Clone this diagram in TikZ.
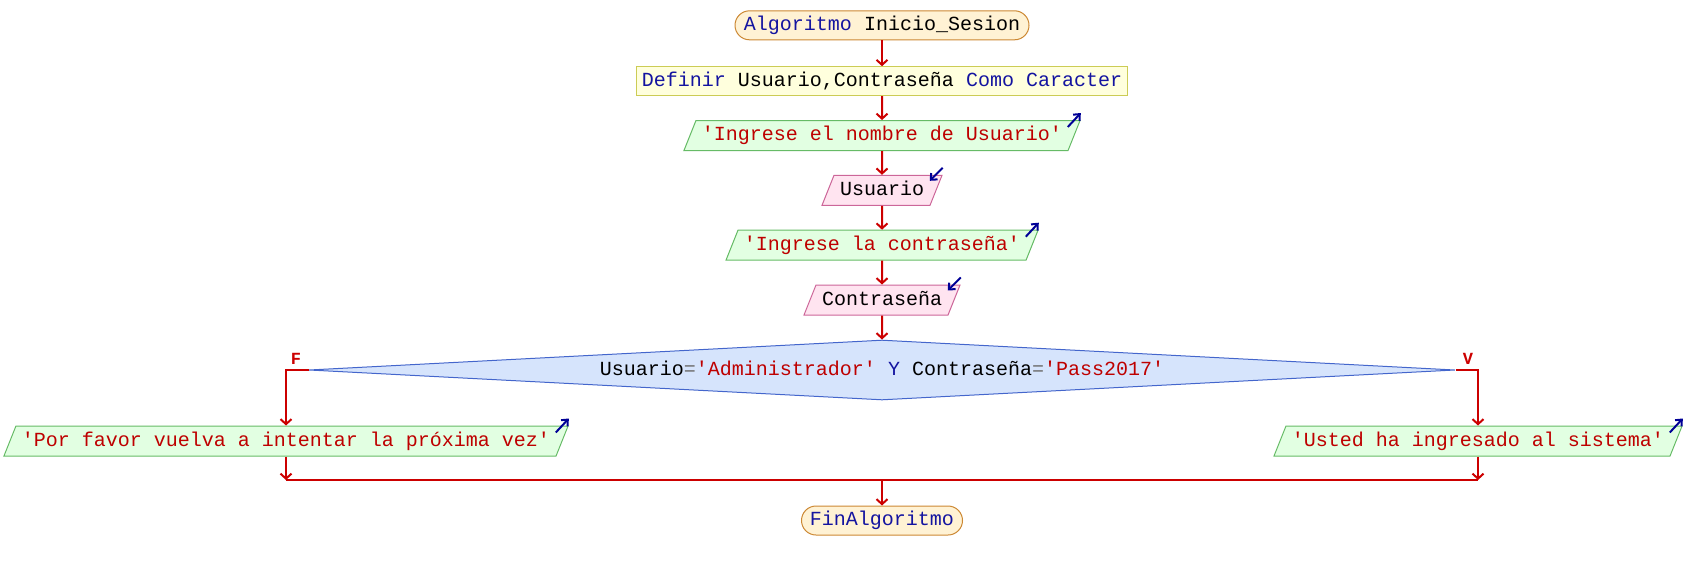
\documentclass[tikz,border=0pt]{standalone}
\usepackage{fontspec}
\setmonofont{Liberation Mono}
\usetikzlibrary{arrows.meta,shapes.geometric}

% syntax colours
\definecolor{kwcol}{RGB}{20,20,160}
\definecolor{strcol}{RGB}{190,0,0}
\definecolor{opcol}{RGB}{110,110,110}
% flow and symbol colours
\definecolor{flowcol}{RGB}{204,0,0}
\definecolor{iconcol}{RGB}{0,0,150}
\definecolor{termfill}{RGB}{255,242,212}
\definecolor{termdraw}{RGB}{204,136,51}
\definecolor{deffill}{RGB}{255,255,221}
\definecolor{defdraw}{RGB}{204,204,85}
\definecolor{outfill}{RGB}{226,255,226}
\definecolor{outdraw}{RGB}{102,187,102}
\definecolor{infill}{RGB}{255,228,240}
\definecolor{indraw}{RGB}{204,102,153}
\definecolor{diafill}{RGB}{214,228,252}
\definecolor{diadraw}{RGB}{68,102,204}

\newcommand{\kwd}[1]{\textcolor{kwcol}{#1}}
\newcommand{\strlit}[1]{\textcolor{strcol}{#1}}
\newcommand{\oper}[1]{\textcolor{opcol}{#1}}

\begin{document}
\begin{tikzpicture}[x=1pt,y=-1pt,
  base/.style={font=\ttfamily\fontsize{20}{24}\selectfont, text height=14pt, text depth=4pt, line width=1pt},
  term/.style={base, rectangle, rounded corners=14.5pt, draw=termdraw, fill=termfill, minimum height=29pt, inner sep=0pt},
  decl/.style={base, rectangle, draw=defdraw, fill=deffill, minimum height=29pt, inner sep=0pt},
  io/.style={base, trapezium, trapezium left angle=68.2, trapezium right angle=111.8, inner xsep=6pt, inner ysep=6pt},
  outbox/.style={io, draw=outdraw, fill=outfill, text=strcol},
  inbox/.style={io, draw=indraw, fill=infill},
  cond/.style={base, diamond, aspect=20, minimum width=1146pt, minimum height=60pt, inner sep=0pt, draw=diadraw, fill=diafill},
  flow/.style={draw=flowcol, line width=2pt, -{Straight Barb[length=5pt,width=11pt]}},
  wire/.style={draw=flowcol, line width=2pt},
  ioicon/.style={draw=iconcol, line width=2pt, -{Straight Barb[length=5pt,width=9pt]}},
  branchlabel/.style={font=\ttfamily\bfseries\fontsize{17}{17}\selectfont, text=flowcol, inner sep=0pt},
]
\useasboundingbox (0,0) rectangle (1686,570);

% symbols
\node[term, minimum width=294pt] (start) at (882,25.3) {\kwd{Algoritmo} Inicio\_Sesion};
\node[decl, minimum width=491pt] (decl) at (882,81.2)
  {\kwd{Definir} Usuario,Contraseña \kwd{Como Caracter}};
\node[outbox] (askuser) at (882,135.5) {'Ingrese el nombre de Usuario'};
\node[inbox] (readuser) at (882,190.3) {Usuario};
\node[outbox] (askpass) at (882,245.2) {'Ingrese la contraseña'};
\node[inbox] (readpass) at (882,300) {Contraseña};
\node[cond] (check) at (882,370)
  {Usuario\oper{=}\strlit{'Administrador'} \kwd{Y} Contraseña\oper{=}\strlit{'Pass2017'}};
\node[outbox] (failmsg) at (286,441) {'Por favor vuelva a intentar la próxima vez'};
\node[outbox] (okmsg) at (1478,441) {'Usted ha ingresado al sistema'};
\node[term, minimum width=161pt] (finish) at (882,520.5) {\kwd{FinAlgoritmo}};
\coordinate (join) at (882,480);

% output / input markers
\foreach \n in {askuser,askpass,failmsg,okmsg}
  \draw[ioicon] ([shift={(-13,7)}]\n.top right corner) -- ([shift={(0,-7)}]\n.top right corner);
\foreach \n in {readuser,readpass}
  \draw[ioicon] ([shift={(0,-7)}]\n.top right corner) -- ([shift={(-13,6)}]\n.top right corner);

% main sequence
\draw[flow] (start) -- (decl);
\draw[flow] (decl) -- (askuser);
\draw[flow] (askuser) -- (readuser);
\draw[flow] (readuser) -- (askpass);
\draw[flow] (askpass) -- (readpass);
\draw[flow] (readpass) -- (check);

% branches
\draw[flow] (check.west) -| (failmsg);
\draw[flow] (check.east) -| (okmsg);
\node[branchlabel] (flabel) at (296,359) {F};
\node[branchlabel] (vlabel) at (1468,359) {V};

% merge
\draw[flow] (failmsg) -- (failmsg |- join);
\draw[flow] (okmsg) -- (okmsg |- join);
\draw[wire] (failmsg |- join) -- (okmsg |- join);
\draw[flow] (join) -- (finish);
\end{tikzpicture}
\end{document}
